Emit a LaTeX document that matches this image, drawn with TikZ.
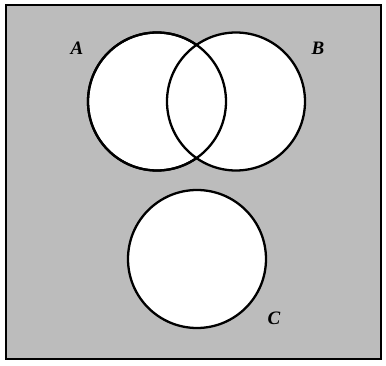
\documentclass[tikz,border=0pt]{standalone}
\usepackage{fontspec}
\setmainfont{Liberation Serif}
\definecolor{bg}{RGB}{188,188,188}
\begin{document}
\begin{tikzpicture}[x=1pt,y=-1pt,
  setcircle/.style={circle,draw=black,line width=2.3pt,fill=white,minimum size=138pt,inner sep=0pt},
  setlabel/.style={font=\fontsize{19}{19}\selectfont\bfseries\itshape}]
\useasboundingbox (0,0) rectangle (386,366);
\fill[white] (0,0) rectangle (386,366);
\draw[fill=bg,line width=1.5pt] (6,5) rectangle (381,359);
\node[setcircle] (A) at (157,101.5) {};
\node[setcircle] (B) at (236,101.5) {};
\node[setcircle] (C) at (197,259) {};
\draw[line width=2.3pt] (157,101.5) circle (69pt);
\node[setlabel] (la) at (77,48) {A};
\node[setlabel] (lb) at (318,48) {B};
\node[setlabel] (lc) at (274,318) {C};
\end{tikzpicture}
\end{document}
